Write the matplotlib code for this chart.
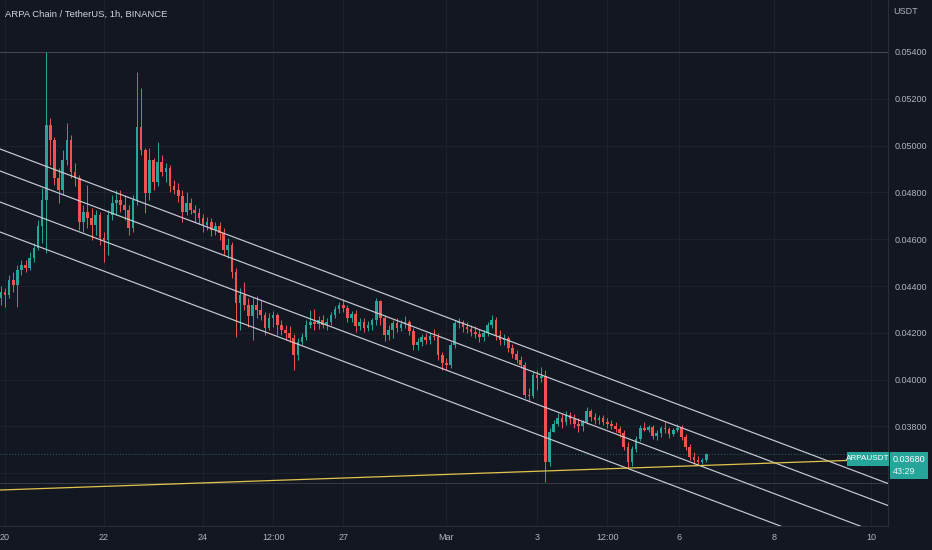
import numpy as np
import matplotlib
matplotlib.use('Agg')
import matplotlib.pyplot as plt
from matplotlib.patches import Rectangle

first_open = 4349
closes = [4374, 4361, 4426, 4405, 4468, 4489, 4477, 4520, 4563, 4656,
          4768, 5088, 5024, 4862, 4810, 4938, 5024, 4887, 4862, 4673,
          4716, 4691, 4661, 4704, 4606, 4597, 4704, 4755, 4768, 4747,
          4725, 4648, 4768, 5079, 4981, 4797, 4938, 4844, 4929, 4887,
          4905, 4827, 4810, 4784, 4716, 4755, 4725, 4712, 4691, 4661,
          4673, 4639, 4656, 4626, 4554, 4576, 4459, 4327, 4361, 4319,
          4271, 4319, 4297, 4276, 4221, 4264, 4276, 4234, 4212, 4199,
          4178, 4105, 4160, 4182, 4234, 4246, 4238, 4255, 4234, 4246,
          4276, 4301, 4319, 4306, 4264, 4280, 4229, 4246, 4221, 4234,
          4255, 4336, 4264, 4191, 4212, 4242, 4221, 4238, 4246, 4208,
          4148, 4160, 4182, 4169, 4186, 4182, 4105, 4071, 4062, 4148,
          4242, 4246, 4225, 4216, 4203, 4195, 4182, 4199, 4234, 4255,
          4191, 4169, 4178, 4135, 4109, 4084, 4062, 3935, 3930, 4020,
          4007, 4015, 3648, 3776, 3810, 3836, 3819, 3849, 3832, 3810,
          3801, 3819, 3866, 3840, 3827, 3836, 3819, 3810, 3801, 3789,
          3772, 3712, 3648, 3703, 3746, 3793, 3785, 3797, 3759, 3772,
          3793, 3789, 3768, 3785, 3793, 3755, 3712, 3669, 3656, 3648,
          3656, 3680]
highs = [4400, 4392, 4447, 4459, 4489, 4511, 4511, 4545, 4584, 4682,
         4819, 5400, 5118, 5035, 4905, 4981, 5096, 5046, 4925, 4875,
         4747, 4832, 4734, 4725, 4716, 4630, 4725, 4789, 4810, 4810,
         4789, 4747, 4789, 5314, 5247, 4990, 4990, 4947, 5015, 4960,
         4925, 4917, 4853, 4840, 4810, 4801, 4777, 4747, 4734, 4708,
         4695, 4691, 4673, 4673, 4648, 4606, 4588, 4477, 4392, 4417,
         4349, 4349, 4357, 4340, 4288, 4284, 4293, 4284, 4255, 4234,
         4229, 4195, 4178, 4199, 4255, 4297, 4301, 4271, 4276, 4264,
         4288, 4314, 4331, 4344, 4319, 4293, 4297, 4264, 4264, 4250,
         4264, 4349, 4340, 4276, 4234, 4255, 4264, 4255, 4271, 4255,
         4221, 4178, 4195, 4199, 4199, 4216, 4199, 4118, 4092, 4160,
         4255, 4264, 4255, 4246, 4234, 4229, 4216, 4212, 4246, 4276,
         4268, 4212, 4195, 4186, 4152, 4126, 4101, 4075, 3964, 4032,
         4041, 4054, 4041, 3793, 3827, 3857, 3853, 3866, 3862, 3853,
         3836, 3827, 3883, 3874, 3857, 3849, 3849, 3836, 3827, 3819,
         3801, 3785, 3733, 3716, 3759, 3806, 3819, 3806, 3806, 3785,
         3801, 3819, 3797, 3793, 3810, 3806, 3768, 3725, 3691, 3674,
         3665, 3686]
lows = [4319, 4310, 4349, 4374, 4310, 4447, 4459, 4468, 4502, 4554,
        4584, 4541, 4917, 4832, 4755, 4789, 4917, 4862, 4827, 4639,
        4630, 4648, 4597, 4618, 4576, 4502, 4533, 4682, 4704, 4716,
        4682, 4618, 4630, 4747, 4960, 4712, 4768, 4810, 4827, 4870,
        4844, 4801, 4793, 4759, 4673, 4704, 4708, 4673, 4665, 4630,
        4639, 4613, 4618, 4597, 4533, 4520, 4435, 4182, 4212, 4297,
        4225, 4169, 4264, 4255, 4191, 4212, 4225, 4191, 4191, 4169,
        4160, 4041, 4084, 4148, 4169, 4221, 4212, 4216, 4221, 4212,
        4234, 4264, 4284, 4288, 4246, 4246, 4203, 4212, 4203, 4208,
        4212, 4234, 4234, 4165, 4169, 4178, 4203, 4208, 4221, 4191,
        4126, 4126, 4143, 4152, 4152, 4169, 4084, 4041, 4041, 4050,
        4135, 4221, 4203, 4199, 4186, 4178, 4160, 4165, 4186, 4221,
        4169, 4148, 4148, 4118, 4092, 4071, 4050, 3922, 3909, 3922,
        3956, 3990, 3563, 3631, 3776, 3801, 3793, 3806, 3810, 3793,
        3776, 3781, 3810, 3823, 3810, 3810, 3806, 3793, 3789, 3776,
        3755, 3699, 3622, 3631, 3691, 3738, 3781, 3776, 3746, 3742,
        3755, 3772, 3750, 3759, 3776, 3742, 3699, 3656, 3639, 3639,
        3639, 3648]

# x axis in hours from Feb 20 00:00
first_bar_hour = -2
bar_step = 2
tick_hours = [0, 48, 96, 130, 164, 214, 258, 292, 327, 373, 420]
tick_labels = ['20', '22', '24', '12:00', '27', 'Mar', '3', '12:00', '6', '8', '10']
price_ticks = [0.036, 0.038, 0.040, 0.042, 0.044, 0.046, 0.048, 0.050, 0.052, 0.054]

# drawn lines: (hour0, price0, hour1, price1)
channel_lines = [(-2.42, 0.049855, 428.1, 0.035560),
                 (-2.42, 0.048915, 428.1, 0.034620),
                 (-2.42, 0.047590, 428.1, 0.033295),
                 (-2.42, 0.046308, 428.1, 0.032013)]
support_line = (-2.42, 0.035282, 428.1, 0.036607)
level_lines = [0.054, 0.03558]
last_price = 0.0368

BG = '#131722'
UP = '#26a69a'
DOWN = '#ef5350'
TXT = '#b2b5be'
plt.rcParams['font.family'] = ['Liberation Sans', 'DejaVu Sans']

o = np.array([first_open] + closes[:-1]) / 1e5
c = np.array(closes) / 1e5
h = np.array(highs) / 1e5
l = np.array(lows) / 1e5
x = first_bar_hour + bar_step * np.arange(len(c))
cols = np.where(c >= o, UP, DOWN)

fig = plt.figure(figsize=(9.32, 5.5), dpi=100)
fig.patch.set_facecolor(BG)
ax = fig.add_axes([0, 24 / 550, 888 / 932, 526 / 550])
ax.set_facecolor(BG)

ax.vlines(x, l, h, colors=cols, lw=0.7, zorder=3)
body = np.maximum(np.abs(c - o), 0.00002)
ax.bar(x, body, bottom=np.minimum(o, c), width=1.3, color=cols, lw=0, zorder=4)

for x0, y0, x1, y1 in channel_lines:
    ax.plot([x0, x1], [y0, y1], color='#c9ccd4', lw=0.85, zorder=5)
ax.plot([support_line[0], support_line[2]], [support_line[1], support_line[3]],
        color='#e3c44d', lw=0.9, zorder=5)
ax.axhline(level_lines[0], color='#434651', lw=0.8, zorder=2)
ax.axhline(level_lines[1], color='#363a45', lw=0.8, zorder=2)
ax.axhline(last_price, color=UP, lw=0.7, ls=(0, (1, 2)), alpha=0.6, zorder=2)

ax.set_xlim(-2.42, 428.1)
ax.set_ylim(0.033744, 0.056222)
ax.set_xticks(tick_hours)
ax.set_xticklabels(tick_labels)
ax.set_yticks(price_ticks)
ax.set_yticklabels(['%.5f' % p for p in price_ticks])
ax.yaxis.tick_right()
ax.tick_params(axis='y', length=0, pad=4.5, labelsize=6.5, labelcolor=TXT)
ax.tick_params(axis='x', length=0, pad=5, labelsize=6.5, labelcolor=TXT)
ax.grid(color='#1e222d', lw=0.7, zorder=0)
for s in ['top', 'left']:
    ax.spines[s].set_visible(False)
for s in ['right', 'bottom']:
    ax.spines[s].set_color('#2a2e39')
    ax.spines[s].set_linewidth(0.8)

fig.text(5 / 932, 1 - 14 / 550, 'ARPA Chain / TetherUS, 1h, BINANCE',
         color='#d1d4dc', fontsize=6.8, va='center', ha='left')
fig.text(893 / 932, 1 - 12 / 550, 'USDT', color=TXT, fontsize=6.5, va='center', ha='left')

# last price labels
fig.add_artist(Rectangle((890 / 932, (550 - 479) / 550), 38 / 932, 27 / 550,
                         transform=fig.transFigure, color=UP, lw=0, zorder=5))
fig.text(893 / 932, 1 - 459 / 550, '%.5f' % last_price, color='white', fontsize=6.5,
         va='center', ha='left', zorder=6)
fig.text(893 / 932, 1 - 471 / 550, '43:29', color='#e8f5f3', fontsize=6.5,
         va='center', ha='left', zorder=6)
fig.add_artist(Rectangle((847 / 932, (550 - 466) / 550), 42 / 932, 14 / 550,
                         transform=fig.transFigure, color=UP, lw=0, zorder=5))
fig.text(868 / 932, 1 - 459 / 550, 'ARPAUSDT', color='white', fontsize=5.9,
         va='center', ha='center', zorder=6)

fig.savefig('out.png', dpi=100, facecolor=BG)
